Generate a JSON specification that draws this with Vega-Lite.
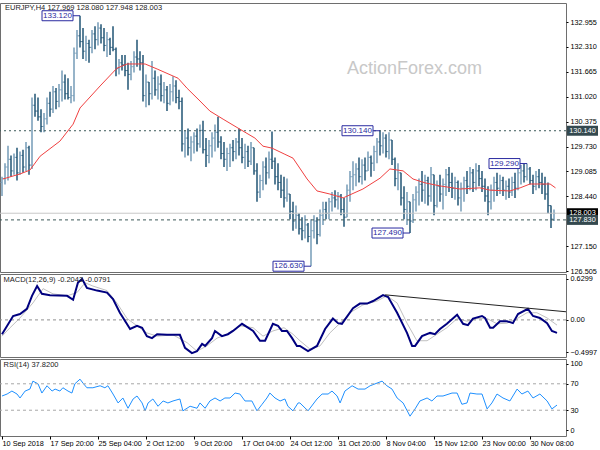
{
"$schema":"https://vega.github.io/schema/vega-lite/v6.json",
"padding":{"left":-3,"top":2,"right":0,"bottom":0},
"spacing":2,
"bounds":"flush",
"background":"white",
"config":{"view":{"stroke":"#6e6e6e","strokeWidth":1},"axis":{"labelFont":"Liberation Sans","labelFontSize":7.3,"labelColor":"#000","tickColor":"#000","domain":false,"grid":false,"tickSize":2,"labelPadding":2,"labelFlush":false,"labelOverlap":false,"title":null},"text":{"font":"Liberation Sans"}},
"datasets":{
"bars":[
{"i":0,"o":128.8,"h":128.95,"l":128.45,"c":128.9},{"i":1,"o":128.9,"h":129.3,"l":128.75,"c":129.2},{"i":2,"o":129.2,"h":129.75,"l":128.85,"c":129.4},{"i":3,"o":129.4,"h":129.5,"l":128.95,"c":129.1},{"i":4,"o":129.1,"h":129.55,"l":129.0,"c":129.45},{"i":5,"o":129.45,"h":129.7,"l":128.85,"c":129.05},{"i":6,"o":129.05,"h":129.6,"l":129.0,"c":129.5},{"i":7,"o":129.5,"h":129.65,"l":129.05,"c":129.2},{"i":8,"o":129.2,"h":129.85,"l":129.1,"c":129.7},{"i":9,"o":129.7,"h":129.75,"l":129.0,"c":129.25},
{"i":10,"o":129.25,"h":131.0,"l":129.15,"c":130.8},{"i":11,"o":130.8,"h":131.1,"l":130.5,"c":130.65},{"i":12,"o":130.65,"h":131.0,"l":130.4,"c":130.5},{"i":13,"o":130.5,"h":130.7,"l":130.1,"c":130.25},{"i":14,"o":130.25,"h":130.6,"l":130.1,"c":130.45},{"i":15,"o":130.45,"h":131.0,"l":130.3,"c":130.85},{"i":16,"o":130.85,"h":131.15,"l":130.5,"c":130.7},{"i":17,"o":130.7,"h":131.3,"l":130.6,"c":131.15},{"i":18,"o":131.15,"h":131.25,"l":130.7,"c":130.9},{"i":19,"o":130.9,"h":131.35,"l":130.75,"c":131.2},
{"i":20,"o":131.2,"h":131.7,"l":130.9,"c":131.4},{"i":21,"o":131.4,"h":131.6,"l":130.95,"c":131.1},{"i":22,"o":131.1,"h":131.5,"l":130.95,"c":131.0},{"i":23,"o":131.0,"h":131.3,"l":130.85,"c":131.05},{"i":24,"o":131.05,"h":132.3,"l":130.9,"c":132.15},{"i":25,"o":132.15,"h":132.75,"l":132.0,"c":132.6},{"i":26,"o":132.6,"h":133.12,"l":132.3,"c":132.45},{"i":27,"o":132.45,"h":132.8,"l":132.0,"c":132.2},{"i":28,"o":132.2,"h":132.6,"l":131.95,"c":132.4},{"i":29,"o":132.4,"h":132.5,"l":131.9,"c":132.3},
{"i":30,"o":132.3,"h":132.75,"l":132.15,"c":132.65},{"i":31,"o":132.65,"h":132.85,"l":132.25,"c":132.5},{"i":32,"o":132.5,"h":132.95,"l":132.35,"c":132.8},{"i":33,"o":132.8,"h":132.9,"l":132.4,"c":132.55},{"i":34,"o":132.55,"h":132.8,"l":132.2,"c":132.35},{"i":35,"o":132.35,"h":132.7,"l":132.05,"c":132.5},{"i":36,"o":132.5,"h":132.55,"l":132.1,"c":132.3},{"i":37,"o":132.3,"h":132.85,"l":132.2,"c":132.25},{"i":38,"o":132.25,"h":132.3,"l":131.55,"c":131.75},{"i":39,"o":131.75,"h":132.0,"l":131.6,"c":131.9},
{"i":40,"o":131.9,"h":132.1,"l":131.7,"c":131.85},{"i":41,"o":131.85,"h":132.1,"l":131.55,"c":131.7},{"i":42,"o":131.7,"h":131.9,"l":131.2,"c":131.6},{"i":43,"o":131.6,"h":131.95,"l":131.45,"c":131.8},{"i":44,"o":131.8,"h":132.2,"l":131.65,"c":132.05},{"i":45,"o":132.05,"h":132.5,"l":131.8,"c":132.0},{"i":46,"o":132.0,"h":132.2,"l":131.7,"c":131.9},{"i":47,"o":131.9,"h":132.1,"l":130.9,"c":131.05},{"i":48,"o":131.05,"h":131.6,"l":130.75,"c":131.4},{"i":49,"o":131.4,"h":131.4,"l":130.8,"c":131.1},
{"i":50,"o":131.1,"h":131.95,"l":130.95,"c":131.5},{"i":51,"o":131.5,"h":131.7,"l":131.05,"c":131.2},{"i":52,"o":131.2,"h":131.55,"l":130.95,"c":131.35},{"i":53,"o":131.35,"h":131.6,"l":130.9,"c":131.05},{"i":54,"o":131.05,"h":131.4,"l":130.85,"c":131.2},{"i":55,"o":131.2,"h":131.3,"l":130.65,"c":130.85},{"i":56,"o":130.85,"h":131.35,"l":130.8,"c":131.15},{"i":57,"o":131.15,"h":131.55,"l":130.9,"c":131.3},{"i":58,"o":131.3,"h":131.45,"l":130.85,"c":131.0},{"i":59,"o":131.0,"h":131.2,"l":130.7,"c":130.9},
{"i":60,"o":130.9,"h":131.0,"l":129.6,"c":129.8},{"i":61,"o":129.8,"h":130.15,"l":129.45,"c":129.95},{"i":62,"o":129.95,"h":130.2,"l":129.5,"c":129.7},{"i":63,"o":129.7,"h":130.0,"l":129.35,"c":129.85},{"i":64,"o":129.85,"h":130.1,"l":129.55,"c":130.0},{"i":65,"o":130.0,"h":130.2,"l":129.6,"c":129.8},{"i":66,"o":129.8,"h":130.3,"l":129.7,"c":130.15},{"i":67,"o":130.15,"h":130.4,"l":129.55,"c":129.65},{"i":68,"o":129.65,"h":129.95,"l":129.2,"c":129.5},{"i":69,"o":129.5,"h":129.9,"l":129.3,"c":129.75},
{"i":70,"o":129.75,"h":130.1,"l":129.45,"c":129.95},{"i":71,"o":129.95,"h":130.3,"l":129.6,"c":130.1},{"i":72,"o":130.1,"h":130.5,"l":129.7,"c":129.85},{"i":73,"o":129.85,"h":130.0,"l":129.4,"c":129.55},{"i":74,"o":129.55,"h":129.85,"l":129.2,"c":129.4},{"i":75,"o":129.4,"h":129.7,"l":129.1,"c":129.55},{"i":76,"o":129.55,"h":129.8,"l":129.2,"c":129.7},{"i":77,"o":129.7,"h":129.9,"l":129.35,"c":129.6},{"i":78,"o":129.6,"h":129.95,"l":129.4,"c":129.85},{"i":79,"o":129.85,"h":130.2,"l":129.5,"c":129.7},
{"i":80,"o":129.7,"h":129.95,"l":129.3,"c":129.45},{"i":81,"o":129.45,"h":129.8,"l":129.15,"c":129.6},{"i":82,"o":129.6,"h":129.75,"l":129.2,"c":129.35},{"i":83,"o":129.35,"h":129.85,"l":129.25,"c":129.7},{"i":84,"o":129.7,"h":129.7,"l":129.0,"c":129.1},{"i":85,"o":129.1,"h":129.3,"l":128.3,"c":128.55},{"i":86,"o":128.55,"h":129.0,"l":128.4,"c":128.85},{"i":87,"o":128.85,"h":129.35,"l":128.6,"c":129.2},{"i":88,"o":129.2,"h":129.45,"l":128.75,"c":129.05},{"i":89,"o":129.05,"h":129.6,"l":128.9,"c":129.4},
{"i":90,"o":129.4,"h":130.12,"l":129.15,"c":129.35},{"i":91,"o":129.35,"h":129.45,"l":128.75,"c":128.95},{"i":92,"o":128.95,"h":129.3,"l":128.6,"c":128.8},{"i":93,"o":128.8,"h":129.0,"l":128.4,"c":128.6},{"i":94,"o":128.6,"h":128.95,"l":128.15,"c":128.4},{"i":95,"o":128.4,"h":128.9,"l":128.3,"c":128.5},{"i":96,"o":128.5,"h":128.5,"l":127.85,"c":128.05},{"i":97,"o":128.05,"h":128.3,"l":127.55,"c":127.8},{"i":98,"o":127.8,"h":128.2,"l":127.6,"c":127.95},{"i":99,"o":127.95,"h":128.0,"l":127.45,"c":127.6},
{"i":100,"o":127.6,"h":127.9,"l":127.3,"c":127.55},{"i":101,"o":127.55,"h":127.95,"l":127.35,"c":127.7},{"i":102,"o":127.7,"h":127.75,"l":127.25,"c":127.4},{"i":103,"o":127.4,"h":127.85,"l":126.63,"c":127.55},{"i":104,"o":127.55,"h":127.95,"l":127.35,"c":127.8},{"i":105,"o":127.8,"h":127.9,"l":127.2,"c":127.45},{"i":106,"o":127.45,"h":128.1,"l":127.4,"c":127.95},{"i":107,"o":127.95,"h":128.3,"l":127.7,"c":128.1},{"i":108,"o":128.1,"h":128.3,"l":127.85,"c":128.0},{"i":109,"o":128.0,"h":128.4,"l":127.85,"c":128.3},
{"i":110,"o":128.3,"h":128.55,"l":128.05,"c":128.4},{"i":111,"o":128.4,"h":128.6,"l":128.15,"c":128.35},{"i":112,"o":128.35,"h":128.55,"l":128.1,"c":128.45},{"i":113,"o":128.45,"h":128.5,"l":127.95,"c":128.1},{"i":114,"o":128.1,"h":128.4,"l":127.65,"c":127.9},{"i":115,"o":127.9,"h":128.75,"l":127.9,"c":128.6},{"i":116,"o":128.6,"h":129.1,"l":128.3,"c":128.95},{"i":117,"o":128.95,"h":129.35,"l":128.6,"c":129.0},{"i":118,"o":129.0,"h":129.3,"l":128.7,"c":129.15},{"i":119,"o":129.15,"h":129.45,"l":128.8,"c":128.95},
{"i":120,"o":128.95,"h":129.4,"l":128.75,"c":129.25},{"i":121,"o":129.25,"h":129.45,"l":128.85,"c":129.1},{"i":122,"o":129.1,"h":129.6,"l":129.1,"c":129.45},{"i":123,"o":129.45,"h":129.5,"l":128.95,"c":129.3},{"i":124,"o":129.3,"h":129.75,"l":129.1,"c":129.6},{"i":125,"o":129.6,"h":129.95,"l":129.3,"c":129.85},{"i":126,"o":129.85,"h":130.14,"l":129.5,"c":129.75},{"i":127,"o":129.75,"h":130.1,"l":129.55,"c":129.95},{"i":128,"o":129.95,"h":130.05,"l":129.45,"c":129.6},{"i":129,"o":129.6,"h":130.1,"l":129.4,"c":129.9},
{"i":130,"o":129.9,"h":129.9,"l":129.25,"c":129.4},{"i":131,"o":129.4,"h":129.45,"l":128.7,"c":128.9},{"i":132,"o":128.9,"h":129.3,"l":128.6,"c":129.05},{"i":133,"o":129.05,"h":129.05,"l":128.2,"c":128.4},{"i":134,"o":128.4,"h":128.7,"l":127.85,"c":128.1},{"i":135,"o":128.1,"h":128.55,"l":127.7,"c":128.3},{"i":136,"o":128.3,"h":128.3,"l":127.49,"c":127.8},{"i":137,"o":127.8,"h":128.5,"l":127.75,"c":128.35},{"i":138,"o":128.35,"h":128.7,"l":128.05,"c":128.55},{"i":139,"o":128.55,"h":128.9,"l":128.2,"c":128.75},
{"i":140,"o":128.75,"h":129.1,"l":128.3,"c":128.6},{"i":141,"o":128.6,"h":129.0,"l":128.25,"c":128.85},{"i":142,"o":128.85,"h":128.95,"l":128.2,"c":128.45},{"i":143,"o":128.45,"h":129.2,"l":128.3,"c":129.0},{"i":144,"o":129.0,"h":129.0,"l":127.95,"c":128.2},{"i":145,"o":128.2,"h":128.85,"l":128.15,"c":128.7},{"i":146,"o":128.7,"h":129.0,"l":128.3,"c":128.5},{"i":147,"o":128.5,"h":128.9,"l":128.1,"c":128.75},{"i":148,"o":128.75,"h":129.15,"l":128.45,"c":129.0},{"i":149,"o":129.0,"h":129.2,"l":128.55,"c":128.8},
{"i":150,"o":128.8,"h":129.05,"l":128.4,"c":128.65},{"i":151,"o":128.65,"h":128.95,"l":128.35,"c":128.8},{"i":152,"o":128.8,"h":128.85,"l":128.2,"c":128.4},{"i":153,"o":128.4,"h":128.8,"l":128.05,"c":128.65},{"i":154,"o":128.65,"h":128.95,"l":128.3,"c":128.85},{"i":155,"o":128.85,"h":129.1,"l":128.5,"c":128.7},{"i":156,"o":128.7,"h":129.2,"l":128.6,"c":129.05},{"i":157,"o":129.05,"h":129.15,"l":128.55,"c":128.8},{"i":158,"o":128.8,"h":129.3,"l":128.6,"c":129.1},{"i":159,"o":129.1,"h":129.25,"l":128.7,"c":128.9},
{"i":160,"o":128.9,"h":129.1,"l":128.55,"c":128.7},{"i":161,"o":128.7,"h":128.9,"l":128.3,"c":128.45},{"i":162,"o":128.45,"h":128.7,"l":127.95,"c":128.3},{"i":163,"o":128.3,"h":128.75,"l":128.1,"c":128.6},{"i":164,"o":128.6,"h":128.95,"l":128.3,"c":128.8},{"i":165,"o":128.8,"h":129.05,"l":128.45,"c":128.65},{"i":166,"o":128.65,"h":129.0,"l":128.5,"c":128.85},{"i":167,"o":128.85,"h":128.95,"l":128.45,"c":128.6},{"i":168,"o":128.6,"h":128.85,"l":128.35,"c":128.7},{"i":169,"o":128.7,"h":128.9,"l":128.4,"c":128.55},
{"i":170,"o":128.55,"h":128.95,"l":128.45,"c":128.8},{"i":171,"o":128.8,"h":129.05,"l":128.4,"c":128.65},{"i":172,"o":128.65,"h":129.2,"l":128.6,"c":129.05},{"i":173,"o":129.05,"h":129.25,"l":128.75,"c":129.1},{"i":174,"o":129.1,"h":129.28,"l":128.8,"c":128.95},{"i":175,"o":128.95,"h":129.29,"l":128.85,"c":129.15},{"i":176,"o":129.15,"h":129.2,"l":128.75,"c":128.85},{"i":177,"o":128.85,"h":129.0,"l":128.5,"c":128.7},{"i":178,"o":128.7,"h":129.1,"l":128.6,"c":128.95},{"i":179,"o":128.95,"h":129.15,"l":128.65,"c":128.8},
{"i":180,"o":128.8,"h":129.05,"l":128.5,"c":128.75},{"i":181,"o":128.75,"h":128.95,"l":128.35,"c":128.5},{"i":182,"o":128.5,"h":128.8,"l":128.0,"c":128.2},{"i":183,"o":128.2,"h":128.2,"l":127.62,"c":127.85},{"i":184,"o":127.85,"h":128.1,"l":127.8,"c":128.0}
],
"ma":[{"i":0.3,"v":128.89},{"i":6,"v":129.02},{"i":9.3,"v":129.12},{"i":12.7,"v":129.48},{"i":19.3,"v":129.87},{"i":23.7,"v":130.31},{"i":26,"v":130.73},{"i":32.7,"v":131.3},{"i":38.3,"v":131.76},{"i":41.7,"v":131.87},{"i":47.7,"v":131.87},{"i":51.7,"v":131.74},{"i":58.7,"v":131.5},{"i":61.7,"v":131.24},{"i":66,"v":130.91},{"i":69.3,"v":130.65},{"i":73.7,"v":130.44},{"i":79.3,"v":130.18},{"i":84.3,"v":129.95},{"i":87,"v":129.74},{"i":90,"v":129.69},{"i":94.3,"v":129.53},{"i":97,"v":129.43},{"i":101.7,"v":128.89},{"i":105,"v":128.58},{"i":109.3,"v":128.5},{"i":113.7,"v":128.4},{"i":120.3,"v":128.63},{"i":126,"v":128.91},{"i":129.3,"v":129.15},{"i":133.7,"v":129.1},{"i":137,"v":128.89},{"i":141,"v":128.79},{"i":146,"v":128.71},{"i":150.3,"v":128.66},{"i":152.7,"v":128.63},{"i":159.3,"v":128.66},{"i":162.7,"v":128.6},{"i":169.3,"v":128.58},{"i":172.7,"v":128.66},{"i":176,"v":128.76},{"i":182.7,"v":128.76},{"i":184.5,"v":128.66}],
"marks":[{"i":26,"p":133.12,"t":"133.120"},{"i":126,"p":130.14,"t":"130.140"},{"i":103,"p":126.63,"t":"126.630"},{"i":136,"p":127.49,"t":"127.490"},{"i":175,"p":129.29,"t":"129.290"}],
"levels":[{"p":130.14,"t":"130.140","b":"#34494f"},{"p":128.003,"t":"128.003","b":"#000000"},{"p":127.83,"t":"127.830","b":"#34494f"}],
"macd":[{"i":0,"v":-0.22},{"i":3.7,"v":0.06},{"i":6,"v":0.09},{"i":8.3,"v":0.17},{"i":10,"v":0.37},{"i":11.7,"v":0.52},{"i":13.3,"v":0.4},{"i":16,"v":0.38},{"i":21.7,"v":0.37},{"i":23.7,"v":0.31},{"i":25.3,"v":0.57},{"i":26.7,"v":0.63},{"i":28.3,"v":0.49},{"i":31.7,"v":0.45},{"i":35,"v":0.42},{"i":37,"v":0.32},{"i":39.3,"v":0.11},{"i":42.7,"v":-0.14},{"i":45,"v":-0.09},{"i":46.7,"v":-0.12},{"i":48.3,"v":-0.25},{"i":50,"v":-0.28},{"i":51.7,"v":-0.22},{"i":55,"v":-0.23},{"i":59.3,"v":-0.23},{"i":61,"v":-0.43},{"i":63.3,"v":-0.51},{"i":65,"v":-0.48},{"i":66.7,"v":-0.37},{"i":67.7,"v":-0.4},{"i":70,"v":-0.28},{"i":71,"v":-0.17},{"i":73.3,"v":-0.25},{"i":75.3,"v":-0.22},{"i":77,"v":-0.17},{"i":80,"v":-0.06},{"i":82,"v":-0.12},{"i":83.7,"v":-0.17},{"i":86,"v":-0.32},{"i":87.7,"v":-0.32},{"i":90.3,"v":-0.06},{"i":92,"v":-0.09},{"i":93.3,"v":-0.17},{"i":95,"v":-0.17},{"i":96.7,"v":-0.28},{"i":98.3,"v":-0.4},{"i":99.3,"v":-0.4},{"i":102,"v":-0.48},{"i":105,"v":-0.4},{"i":107.7,"v":-0.14},{"i":110.3,"v":0.02},{"i":112,"v":-0.05},{"i":113.3,"v":-0.06},{"i":117,"v":0.18},{"i":119.3,"v":0.25},{"i":121.7,"v":0.25},{"i":123.7,"v":0.29},{"i":127,"v":0.38},{"i":128.7,"v":0.35},{"i":131.7,"v":0.11},{"i":135,"v":-0.2},{"i":136.7,"v":-0.4},{"i":137.7,"v":-0.4},{"i":140,"v":-0.25},{"i":142.7,"v":-0.2},{"i":144.3,"v":-0.22},{"i":146,"v":-0.14},{"i":148.3,"v":-0.06},{"i":151.7,"v":0.08},{"i":153.7,"v":-0.06},{"i":155.3,"v":-0.08},{"i":157,"v":0.02},{"i":160,"v":0.06},{"i":161,"v":0.03},{"i":162.7,"v":-0.12},{"i":163.7,"v":-0.12},{"i":166,"v":-0.02},{"i":168.3,"v":-0.02},{"i":170.3,"v":-0.05},{"i":172,"v":0.09},{"i":175.3,"v":0.17},{"i":177,"v":0.06},{"i":179.3,"v":0.03},{"i":181.7,"v":-0.05},{"i":183.3,"v":-0.17},{"i":185,"v":-0.2}],
"sig":[{"i":0,"v":-0.25},{"i":2.7,"v":-0.12},{"i":6,"v":0.03},{"i":10.3,"v":0.26},{"i":13.7,"v":0.48},{"i":17,"v":0.4},{"i":21.7,"v":0.37},{"i":25,"v":0.42},{"i":27.7,"v":0.57},{"i":30.3,"v":0.52},{"i":35,"v":0.45},{"i":38.3,"v":0.26},{"i":41.7,"v":0.02},{"i":45,"v":-0.09},{"i":48.3,"v":-0.2},{"i":51.7,"v":-0.25},{"i":57,"v":-0.23},{"i":61.7,"v":-0.35},{"i":65,"v":-0.48},{"i":68.3,"v":-0.4},{"i":71.7,"v":-0.28},{"i":75,"v":-0.22},{"i":79.3,"v":-0.09},{"i":83.7,"v":-0.12},{"i":87,"v":-0.25},{"i":90.3,"v":-0.17},{"i":94,"v":-0.12},{"i":97,"v":-0.22},{"i":99.3,"v":-0.32},{"i":102.7,"v":-0.45},{"i":106,"v":-0.4},{"i":109.3,"v":-0.2},{"i":112.7,"v":-0.05},{"i":116,"v":0.11},{"i":120.3,"v":0.23},{"i":125,"v":0.29},{"i":128.3,"v":0.37},{"i":131.7,"v":0.26},{"i":135,"v":-0.05},{"i":138.3,"v":-0.32},{"i":141.7,"v":-0.32},{"i":145,"v":-0.22},{"i":148.3,"v":-0.12},{"i":151.7,"v":0.02},{"i":155,"v":-0.02},{"i":158.3,"v":0.02},{"i":161.7,"v":0.02},{"i":165,"v":-0.06},{"i":168.3,"v":-0.05},{"i":171.7,"v":0.02},{"i":175,"v":0.11},{"i":178.3,"v":0.11},{"i":181.7,"v":0.03},{"i":185,"v":-0.08}],
"trend":[{"i":127.7,"v":0.385},{"i":188,"v":0.125}],
"rsi":[{"i":0,"v":51.5},{"i":1.7,"v":54.5},{"i":3.3,"v":59},{"i":5,"v":54.5},{"i":6,"v":48.5},{"i":7.7,"v":59},{"i":9.3,"v":62},{"i":10.3,"v":74},{"i":12,"v":70},{"i":13.3,"v":56},{"i":15,"v":67},{"i":16.7,"v":59},{"i":17.7,"v":62},{"i":19.3,"v":59},{"i":20.3,"v":64},{"i":22,"v":59},{"i":23.3,"v":56},{"i":24.3,"v":70},{"i":26,"v":77},{"i":27,"v":71},{"i":28.3,"v":64},{"i":30.3,"v":64},{"i":32.7,"v":67},{"i":34.3,"v":64},{"i":35.3,"v":67},{"i":37,"v":54.5},{"i":38.7,"v":41},{"i":40.3,"v":48.5},{"i":42,"v":33},{"i":43.7,"v":47},{"i":45,"v":51.5},{"i":46.7,"v":41},{"i":47.7,"v":29},{"i":48.7,"v":41},{"i":50.3,"v":47},{"i":52,"v":36},{"i":53.7,"v":44},{"i":55.3,"v":41},{"i":57,"v":44},{"i":59.3,"v":47},{"i":60.3,"v":29},{"i":62.7,"v":36},{"i":65,"v":33},{"i":66,"v":41},{"i":67.7,"v":33},{"i":69.3,"v":44},{"i":71,"v":48.5},{"i":72.7,"v":44},{"i":74.3,"v":48.5},{"i":76,"v":48.5},{"i":77.7,"v":56},{"i":79.3,"v":54.5},{"i":81,"v":44},{"i":83.3,"v":44},{"i":85,"v":29},{"i":86.7,"v":39},{"i":88.3,"v":48.5},{"i":89.3,"v":56},{"i":91,"v":48.5},{"i":92.7,"v":44},{"i":94.3,"v":47},{"i":95.3,"v":36},{"i":97,"v":29},{"i":98.7,"v":41},{"i":99.3,"v":41},{"i":102,"v":29},{"i":105,"v":47},{"i":106.7,"v":54.5},{"i":108.7,"v":54.5},{"i":110,"v":59},{"i":111.7,"v":51.5},{"i":112.7,"v":41},{"i":114.3,"v":59},{"i":116.7,"v":67},{"i":118.7,"v":62},{"i":121,"v":62},{"i":122.7,"v":67},{"i":125,"v":71},{"i":126.7,"v":74},{"i":128.3,"v":67},{"i":130,"v":62},{"i":131.7,"v":48.5},{"i":133.7,"v":41},{"i":136,"v":21},{"i":137.7,"v":32},{"i":139.3,"v":44},{"i":141.7,"v":48.5},{"i":143.3,"v":44},{"i":145,"v":51.5},{"i":147,"v":51.5},{"i":150,"v":56},{"i":151.7,"v":56},{"i":153.3,"v":39},{"i":155,"v":41},{"i":156,"v":56},{"i":158.3,"v":54.5},{"i":160,"v":54.5},{"i":161.7,"v":32},{"i":163.3,"v":41},{"i":165,"v":54.5},{"i":167,"v":48.5},{"i":169.3,"v":44},{"i":171.7,"v":62},{"i":173.3,"v":54.5},{"i":175.3,"v":59},{"i":177,"v":48.5},{"i":179.3,"v":54.5},{"i":181.7,"v":44},{"i":183.3,"v":32},{"i":185,"v":37.8}]
},
"vconcat":[
{
"width":566,"height":269,
"layer":[
{"data":{"name":"bars"},"mark":{"type":"rule","strokeWidth":1.6},"encoding":{"x":{"field":"i","type":"quantitative","scale":{"domain":[-0.667,188],"nice":false,"zero":false},"axis":null},"y":{"field":"l","type":"quantitative","scale":{"domain":[126.48,133.45],"nice":false,"zero":false},"axis":{"orient":"right","values":[126.505,127.15,128.44,129.085,129.73,130.375,131.02,131.665,132.31,132.955],"format":".3f","labelOverlap":false,"title":null}},"y2":{"field":"h"},"color":{"condition":{"test":"datum.c>=datum.o","value":"#7ea2bc"},"value":"#2f5f7d"}}},
{"data":{"name":"bars"},"mark":{"type":"rule","strokeWidth":1,"xOffset":-1.5,"x2Offset":0},"encoding":{"x":{"field":"i","type":"quantitative","axis":null},"x2":{"field":"i"},"y":{"field":"o","type":"quantitative","axis":{"orient":"right","values":[126.505,127.15,128.44,129.085,129.73,130.375,131.02,131.665,132.31,132.955],"format":".3f","labelOverlap":false,"title":null}},"color":{"condition":{"test":"datum.c>=datum.o","value":"#7ea2bc"},"value":"#2f5f7d"}}},
{"data":{"name":"bars"},"mark":{"type":"rule","strokeWidth":1,"xOffset":0,"x2Offset":1.5},"encoding":{"x":{"field":"i","type":"quantitative","axis":null},"x2":{"field":"i"},"y":{"field":"c","type":"quantitative","axis":{"orient":"right","values":[126.505,127.15,128.44,129.085,129.73,130.375,131.02,131.665,132.31,132.955],"format":".3f","labelOverlap":false,"title":null}},"color":{"condition":{"test":"datum.c>=datum.o","value":"#7ea2bc"},"value":"#2f5f7d"}}},
{"data":{"values":[{}]},"mark":{"type":"rule","color":"#c8c8c8"},"encoding":{"y":{"datum":128.003,"type":"quantitative","axis":{"orient":"right","values":[126.505,127.15,128.44,129.085,129.73,130.375,131.02,131.665,132.31,132.955],"format":".3f","labelOverlap":false,"title":null}}}},
{"data":{"values":[{}]},"mark":{"type":"rule","strokeDash":[2,3],"color":"#3d5a5a"},"encoding":{"y":{"datum":130.14,"type":"quantitative","axis":{"orient":"right","values":[126.505,127.15,128.44,129.085,129.73,130.375,131.02,131.665,132.31,132.955],"format":".3f","labelOverlap":false,"title":null}}}},
{"data":{"values":[{}]},"mark":{"type":"rule","strokeDash":[3,3],"color":"#3d5a5a"},"encoding":{"y":{"datum":127.83,"type":"quantitative","axis":{"orient":"right","values":[126.505,127.15,128.44,129.085,129.73,130.375,131.02,131.665,132.31,132.955],"format":".3f","labelOverlap":false,"title":null}}}},
{"data":{"values":[{}]},"mark":{"type":"text","align":"left","baseline":"middle","fontSize":18,"color":"#c8c8c8"},"encoding":{"x":{"datum":115,"type":"quantitative","axis":null},"y":{"datum":131.74,"type":"quantitative","axis":{"orient":"right","values":[126.505,127.15,128.44,129.085,129.73,130.375,131.02,131.665,132.31,132.955],"format":".3f","labelOverlap":false,"title":null}},"text":{"value":"ActionForex.com"}}},
{"data":{"name":"ma"},"mark":{"type":"line","color":"#f04040","strokeWidth":1},"encoding":{"x":{"field":"i","type":"quantitative","axis":null},"y":{"field":"v","type":"quantitative","axis":{"orient":"right","values":[126.505,127.15,128.44,129.085,129.73,130.375,131.02,131.665,132.31,132.955],"format":".3f","labelOverlap":false,"title":null}}}},
{"data":{"name":"marks"},"mark":{"type":"rule","color":"#2a2aa0","strokeWidth":1,"xOffset":-7,"x2Offset":0},"encoding":{"x":{"field":"i","type":"quantitative","axis":null},"x2":{"field":"i"},"y":{"field":"p","type":"quantitative","axis":{"orient":"right","values":[126.505,127.15,128.44,129.085,129.73,130.375,131.02,131.665,132.31,132.955],"format":".3f","labelOverlap":false,"title":null}}}},
{"data":{"name":"marks"},"mark":{"type":"rect","fill":"white","stroke":"#2a2aa0","strokeWidth":1,"xOffset":-38,"x2Offset":-7,"yOffset":-5,"y2Offset":5},"encoding":{"x":{"field":"i","type":"quantitative","axis":null},"x2":{"field":"i"},"y":{"field":"p","type":"quantitative","axis":{"orient":"right","values":[126.505,127.15,128.44,129.085,129.73,130.375,131.02,131.665,132.31,132.955],"format":".3f","labelOverlap":false,"title":null}},"y2":{"field":"p"}}},
{"data":{"name":"marks"},"mark":{"type":"text","color":"#2a2aa0","fontSize":8,"dx":-22.5,"baseline":"middle","align":"center"},"encoding":{"x":{"field":"i","type":"quantitative","axis":null},"y":{"field":"p","type":"quantitative","axis":{"orient":"right","values":[126.505,127.15,128.44,129.085,129.73,130.375,131.02,131.665,132.31,132.955],"format":".3f","labelOverlap":false,"title":null}},"text":{"field":"t"}}},
{"data":{"name":"levels"},"mark":{"type":"rect","xOffset":1,"x2Offset":32,"yOffset":-5,"y2Offset":5},"encoding":{"x":{"datum":188,"type":"quantitative","axis":null},"x2":{"datum":188},"y":{"field":"p","type":"quantitative","axis":{"orient":"right","values":[126.505,127.15,128.44,129.085,129.73,130.375,131.02,131.665,132.31,132.955],"format":".3f","labelOverlap":false,"title":null}},"y2":{"field":"p"},"fill":{"field":"b","type":"nominal","scale":null}}},
{"data":{"name":"levels"},"mark":{"type":"text","color":"white","fontSize":7.3,"dx":16.5,"align":"center","baseline":"middle"},"encoding":{"x":{"datum":188,"type":"quantitative","axis":null},"y":{"field":"p","type":"quantitative","axis":{"orient":"right","values":[126.505,127.15,128.44,129.085,129.73,130.375,131.02,131.665,132.31,132.955],"format":".3f","labelOverlap":false,"title":null}},"text":{"field":"t"}}},
{"data":{"values":[{}]},"mark":{"type":"text","align":"left","baseline":"middle","fontSize":7.5,"color":"#222"},"encoding":{"x":{"datum":1,"type":"quantitative","axis":null},"y":{"datum":133.32,"type":"quantitative","axis":{"orient":"right","values":[126.505,127.15,128.44,129.085,129.73,130.375,131.02,131.665,132.31,132.955],"format":".3f","labelOverlap":false,"title":null}},"text":{"value":"EURJPY,H4  127.969 128.080 127.948 128.003"}}}
]
},
{
"width":566,"height":83,
"layer":[
{"data":{"name":"sig"},"mark":{"type":"line","color":"#c0c0c0","strokeWidth":1},"encoding":{"x":{"field":"i","type":"quantitative","scale":{"domain":[-0.667,188],"nice":false,"zero":false},"axis":null},"y":{"field":"v","type":"quantitative","scale":{"domain":[-0.57,0.705],"nice":false,"zero":false},"axis":{"orient":"right","values":[-0.4997,0,0.6299],"labelExpr":"datum.value==0?'0.00':format(datum.value,'.4f')","labelOverlap":false,"title":null}}}},
{"data":{"values":[{}]},"mark":{"type":"rule","strokeDash":[3,3],"color":"#909090"},"encoding":{"y":{"datum":0,"type":"quantitative","axis":{"orient":"right","values":[-0.4997,0,0.6299],"labelExpr":"datum.value==0?'0.00':format(datum.value,'.4f')","labelOverlap":false,"title":null}}}},
{"data":{"name":"macd"},"mark":{"type":"line","color":"#00007f","strokeWidth":2},"encoding":{"x":{"field":"i","type":"quantitative","axis":null},"y":{"field":"v","type":"quantitative","axis":{"orient":"right","values":[-0.4997,0,0.6299],"labelExpr":"datum.value==0?'0.00':format(datum.value,'.4f')","labelOverlap":false,"title":null}}}},
{"data":{"name":"trend"},"mark":{"type":"line","color":"#222","strokeWidth":1},"encoding":{"x":{"field":"i","type":"quantitative","axis":null},"y":{"field":"v","type":"quantitative","axis":{"orient":"right","values":[-0.4997,0,0.6299],"labelExpr":"datum.value==0?'0.00':format(datum.value,'.4f')","labelOverlap":false,"title":null}}}},
{"data":{"values":[{}]},"mark":{"type":"text","align":"left","baseline":"middle","fontSize":7.5,"color":"#222"},"encoding":{"x":{"datum":0.5,"type":"quantitative","axis":null},"y":{"datum":0.615,"type":"quantitative","axis":{"orient":"right","values":[-0.4997,0,0.6299],"labelExpr":"datum.value==0?'0.00':format(datum.value,'.4f')","labelOverlap":false,"title":null}},"text":{"value":"MACD(12,26,9) -0.2043 -0.0791"}}}
]
},
{
"width":566,"height":77,
"layer":[
{"data":{"name":"rsi"},"mark":{"type":"line","color":"#1e90ff","strokeWidth":1},"encoding":{"x":{"field":"i","type":"quantitative","scale":{"domain":[-0.667,188],"nice":false,"zero":false},"axis":{"values":[0,16,32,48,64,80,96,112,128,144,160,176],"labelAlign":"left","labelPadding":0,"tickSize":3,"labelOverlap":false,"title":null,"labelExpr":"['10 Sep 2018','17 Sep 20:00','25 Sep 04:00','2 Oct 12:00','9 Oct 20:00','17 Oct 04:00','24 Oct 12:00','31 Oct 20:00','8 Nov 04:00','15 Nov 12:00','23 Nov 00:00','30 Nov 08:00'][round(datum.value/16)]"}},"y":{"field":"v","type":"quantitative","scale":{"domain":[-9,107.5],"nice":false,"zero":false},"axis":{"orient":"right","values":[0,30,70,100],"labelOverlap":false,"title":null}}}},
{"data":{"values":[{"v":30},{"v":70}]},"mark":{"type":"rule","strokeDash":[3,3],"color":"#a8a8a8"},"encoding":{"y":{"field":"v","type":"quantitative","axis":{"orient":"right","values":[0,30,70,100],"labelOverlap":false,"title":null}}}},
{"data":{"values":[{}]},"mark":{"type":"text","align":"left","baseline":"middle","fontSize":7.5,"color":"#222"},"encoding":{"x":{"datum":0.5,"type":"quantitative","axis":{"values":[0,16,32,48,64,80,96,112,128,144,160,176],"labelAlign":"left","labelPadding":0,"tickSize":3,"labelOverlap":false,"title":null,"labelExpr":"['10 Sep 2018','17 Sep 20:00','25 Sep 04:00','2 Oct 12:00','9 Oct 20:00','17 Oct 04:00','24 Oct 12:00','31 Oct 20:00','8 Nov 04:00','15 Nov 12:00','23 Nov 00:00','30 Nov 08:00'][round(datum.value/16)]"}},"y":{"datum":98,"type":"quantitative","axis":{"orient":"right","values":[0,30,70,100],"labelOverlap":false,"title":null}},"text":{"value":"RSI(14) 37.8200"}}}
]
}
]
}
